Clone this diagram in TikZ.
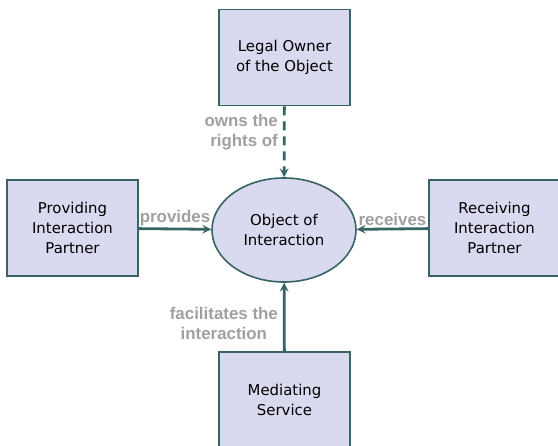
\documentclass[tikz,border=0pt]{standalone}
\usepackage{fontspec}
\setmainfont{DejaVu Sans}
\newfontfamily\relfont{Liberation Sans}
\usetikzlibrary{positioning}
\usetikzlibrary{shapes.geometric}
\tikzset{>=stealth}
\definecolor{partyfill}{HTML}{D9D9F0}
\definecolor{partyline}{HTML}{386464}
\definecolor{relgray}{HTML}{A0A0A0}
\tikzset{
  party/.style={draw=partyline, fill=partyfill, line width=1.6pt, minimum width=131pt, minimum height=96pt, align=center, font=\fontsize{14.9}{20}\selectfont},
  thing/.style={ellipse, draw=partyline, fill=partyfill, line width=1.6pt, minimum width=144pt, minimum height=104pt, align=center, font=\fontsize{14.9}{20}\selectfont},
  rel/.style={draw=partyline, line width=2.8pt, ->},
  rellabel/.style={text=relgray, font=\relfont\bfseries\fontsize{16.9}{20}\selectfont, inner sep=2pt}
}

\begin{document}
\begin{tikzpicture}[x=1pt,y=-1pt]
\useasboundingbox (0,0) rectangle (558,446);

\node[thing] (obj) at (284,230){Object of\\Interaction};
\node[party] (owner) at (284.5,57.5){Legal Owner\\of the Object};
\node[party] (giver) at (72.5,228){Providing\\Interaction\\Partner};
\node[party] (taker) at (494.5,228){Receiving\\Interaction\\Partner};
\node[party] (medium) at (284.5,400){Mediating\\Service};

\draw[rel, dashed, dash pattern=on 9pt off 6pt] (owner) -- node[rellabel, left, pos=0.37, align=right, inner sep=5pt]{owns the\\rights of} (obj);
\draw[rel] (giver) -- node[rellabel, above, midway]{provides} (obj);
\draw[rel] (taker) -- node[rellabel, above, midway]{receives} (obj);
\draw[rel] (medium) -- node[rellabel, left, pos=0.4, align=center, inner sep=5pt]{facilitates the\\interaction} (obj);
\end{tikzpicture}
\end{document}
